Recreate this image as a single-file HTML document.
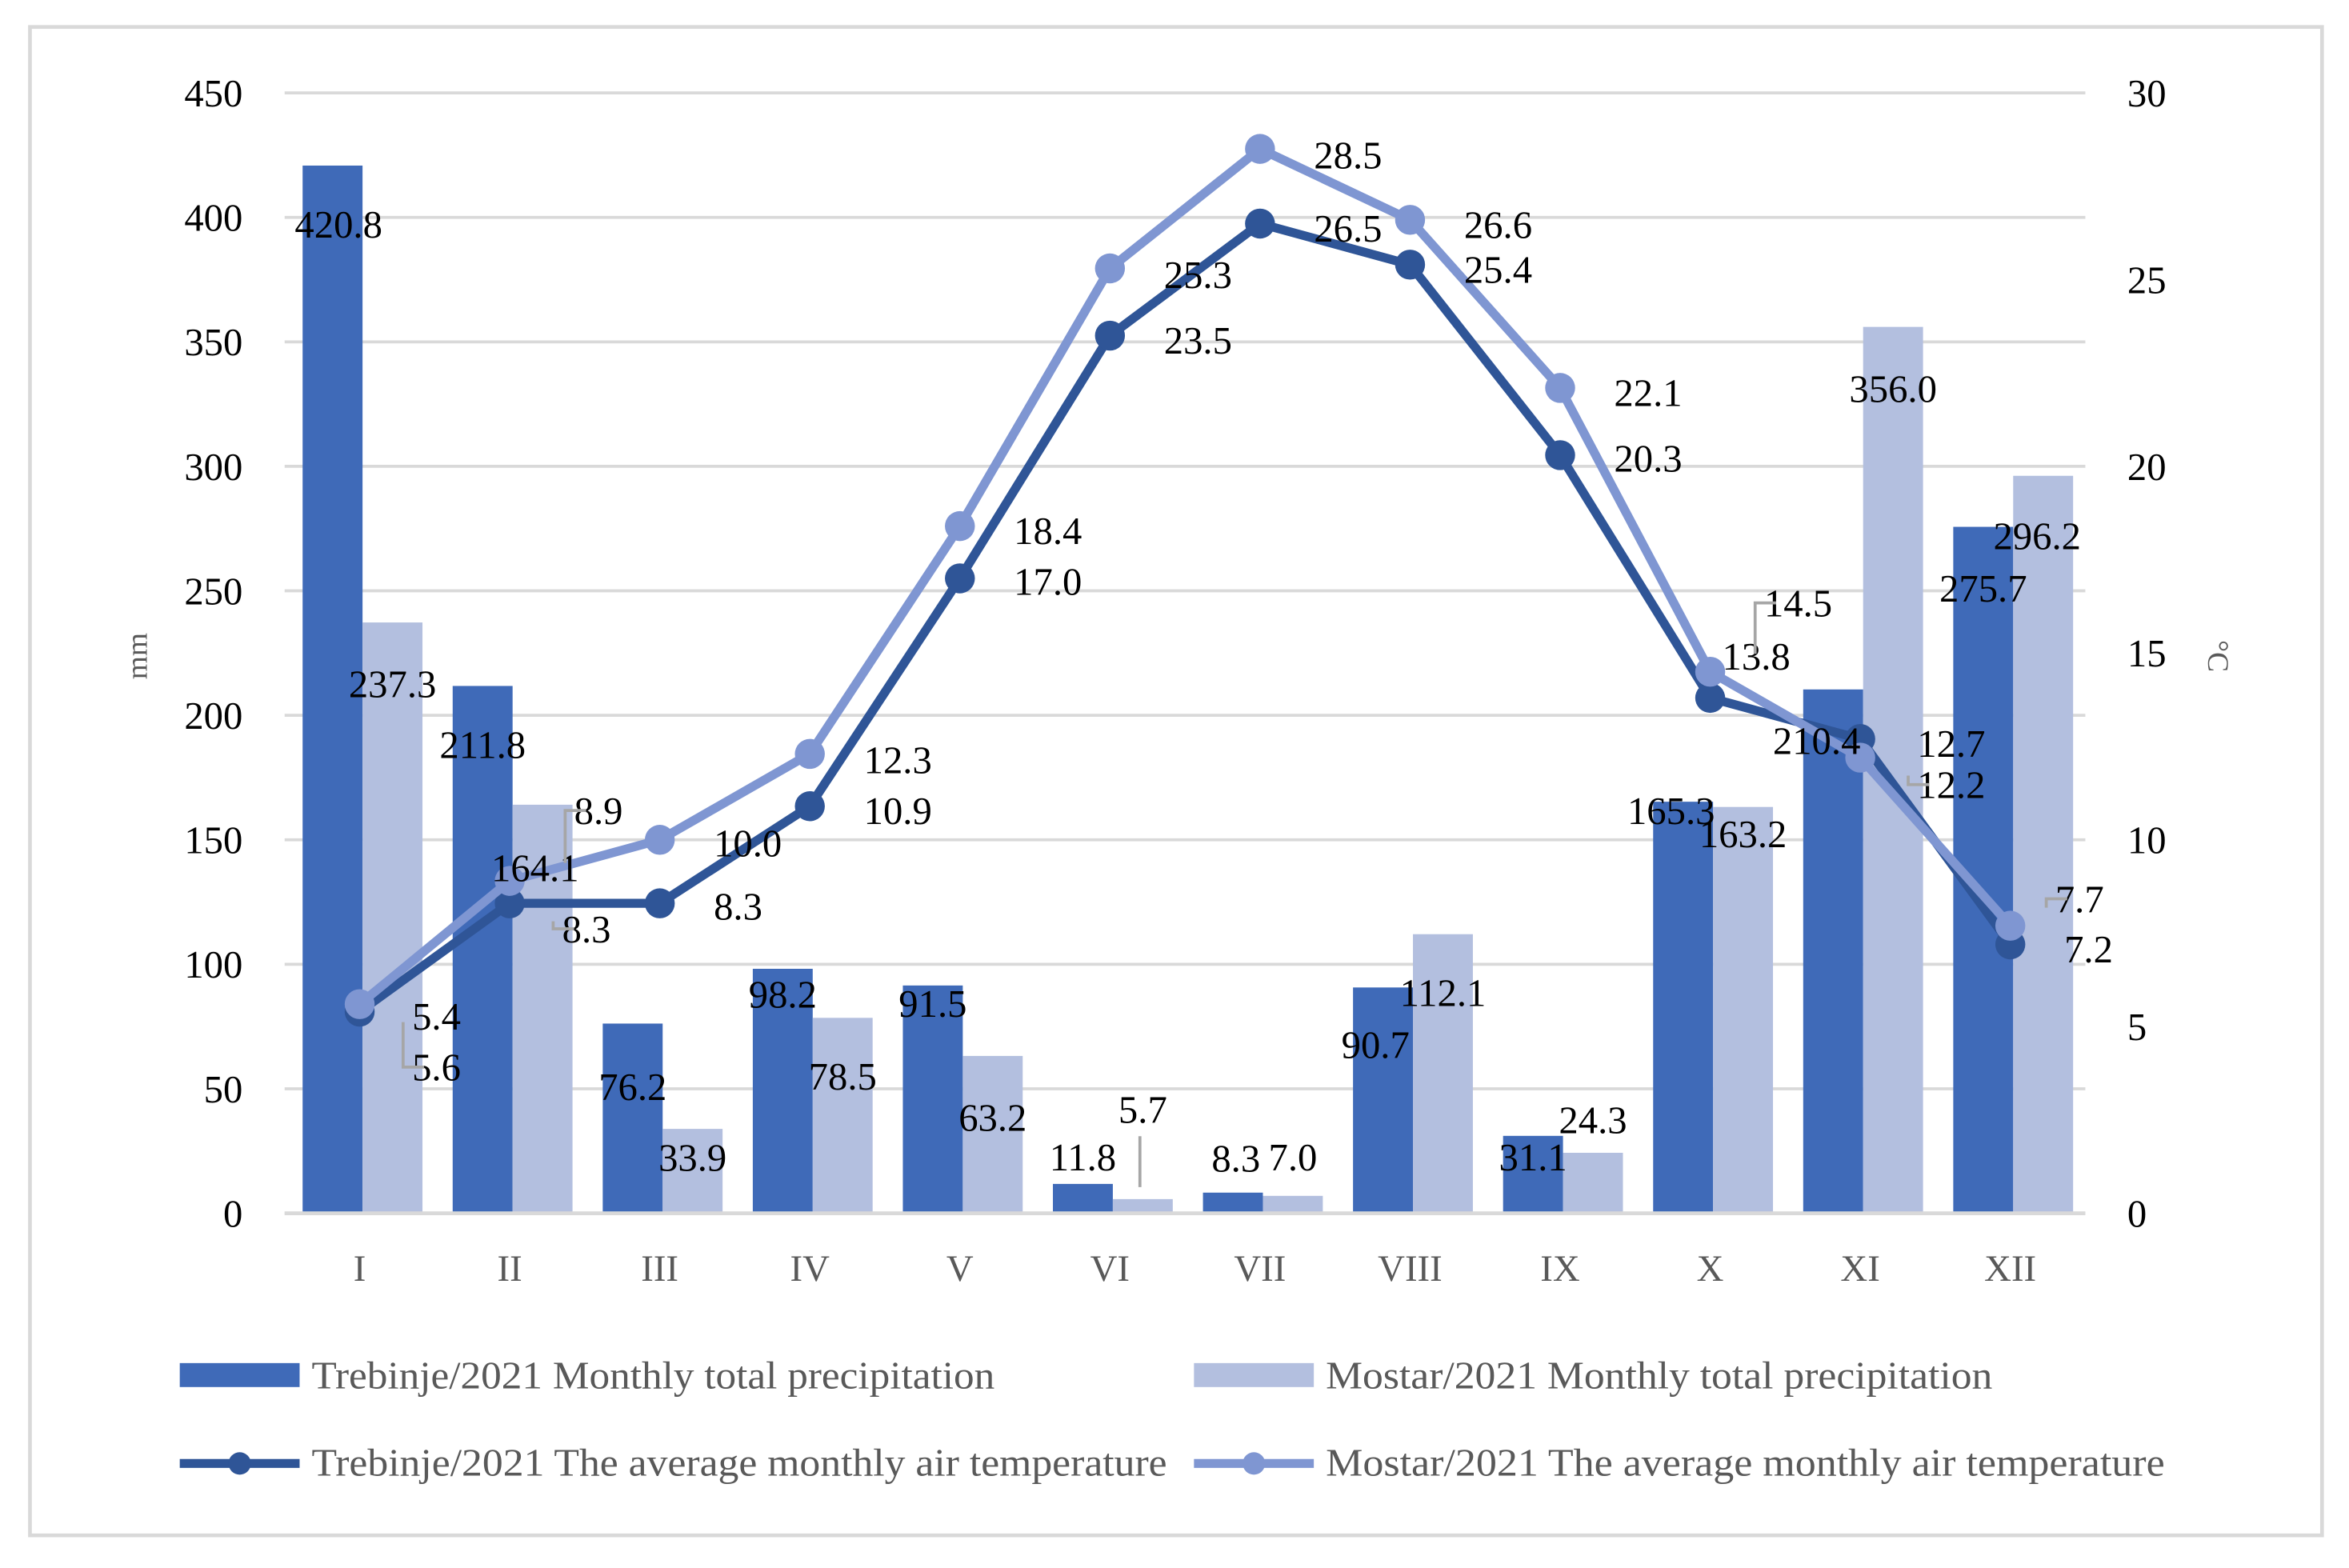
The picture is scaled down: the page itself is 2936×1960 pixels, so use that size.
<!DOCTYPE html>
<html><head><meta charset="utf-8"><style>
html,body{margin:0;padding:0;background:#fff;}
svg{display:block;}
text{font-family:"Liberation Serif",serif;}
</style></head><body>
<svg id="chart" width="2936" height="1960" viewBox="0 0 1568 1046.8" preserveAspectRatio="none" xmlns="http://www.w3.org/2000/svg">
<rect x="20" y="18" width="1530" height="1007" fill="#fff" stroke="#d9d9d9" stroke-width="2.5"/>
<g id="grid"></g><g id="bars"></g><g id="lines"></g><g id="labels"></g>
<text x="0" y="0" transform="translate(98,438) rotate(-90)" font-size="20" fill="#595959" text-anchor="middle">mm</text>
<text x="0" y="0" transform="translate(1474,438) rotate(90)" font-size="20" fill="#595959" text-anchor="middle">°C</text>
<g font-size="26" fill="#595959">
<rect x="120" y="910" width="80" height="16" fill="#3f6ab8"/>
<text x="208" y="927" textLength="456" lengthAdjust="spacingAndGlyphs">Trebinje/2021 Monthly total precipitation</text>
<rect x="797" y="910" width="80" height="16" fill="#b3bfdf"/>
<text x="885" y="927" textLength="445" lengthAdjust="spacingAndGlyphs">Mostar/2021 Monthly total precipitation</text>
<line x1="120" y1="977" x2="200" y2="977" stroke="#2f5597" stroke-width="6"/>
<circle cx="160" cy="977" r="7.5" fill="#2f5597"/>
<text x="208" y="985" textLength="571" lengthAdjust="spacingAndGlyphs">Trebinje/2021 The average monthly air temperature</text>
<line x1="797" y1="977" x2="877" y2="977" stroke="#7f96d2" stroke-width="6"/>
<circle cx="837" cy="977" r="7.5" fill="#7f96d2"/>
<text x="885" y="985" textLength="560" lengthAdjust="spacingAndGlyphs">Mostar/2021 The average monthly air temperature</text>
</g>
</svg>
<script>
const months = ["I","II","III","IV","V","VI","VII","VIII","IX","X","XI","XII"];
const trebinjePrecip = [420.8,211.8,76.2,98.2,91.5,11.8,8.3,90.7,31.1,165.3,210.4,275.7];
const mostarPrecip = [237.3,164.1,33.9,78.5,63.2,5.7,7.0,112.1,24.3,163.2,356.0,296.2];
const trebinjeTemp = [5.4,8.3,8.3,10.9,17.0,23.5,26.5,25.4,20.3,13.8,12.7,7.2];
const mostarTemp = [5.6,8.9,10.0,12.3,18.4,25.3,28.5,26.6,22.1,14.5,12.2,7.7];
const leftTicks = [0,50,100,150,200,250,300,350,400,450];
const rightTicks = [0,5,10,15,20,25,30];

const NS="http://www.w3.org/2000/svg";
const X0=190, X1=1392, Y0=810, Y1=62;
const cw=(X1-X0)/12;
const yL=v=>Y0-(v/450)*(Y0-Y1);
const yR=v=>Y0-(v/30)*(Y0-Y1);
const xc=i=>X0+cw*(i+0.5);
function mk(tag,attrs,parent,txt){const e=document.createElementNS(NS,tag);for(const k in attrs)e.setAttribute(k,attrs[k]);if(txt!==undefined)e.textContent=txt;document.getElementById(parent).appendChild(e);return e;}

leftTicks.forEach(t=>{
  const l=mk('line',{x1:X0,x2:X1,y1:yL(t),y2:yL(t),stroke:'#d9d9d9','stroke-width':2},'grid');
  
  
  const tx=mk('text',{x:162,y:yL(t)+9,'font-size':26,'text-anchor':'end',fill:'#000'},'grid',String(t));
  
  
});
rightTicks.forEach(t=>{
  const tx=mk('text',{x:1420,y:yR(t)+9,'font-size':26,fill:'#000'},'grid',String(t));
  
  
});
months.forEach((m,i)=>{
  const tx=mk('text',{x:xc(i),y:855,'font-size':25,'text-anchor':'middle',fill:'#595959'},'grid',m);
  
  
});
const bw=40;
const tbOff=[[4,39],[0,39],[0,42],[0,17],[0,12],[0,-18],[2,-23],[-5,38],[0,14],[-8,6],[-11,34],[0,41]];
const mbOff=[[0,41],[-5,42],[0,19],[0,39],[0,41],[0,-60],[0,-26],[0,39],[0,-22],[0,18],[0,41],[-4,40]];
trebinjePrecip.forEach((v,i)=>{
  const x=X0+cw*i+12, y=yL(v);
  const r=mk('rect',{x:x,y:y,width:bw,height:Y0-y,fill:'#3f6ab8'},'bars');
  
  
  const t=mk('text',{x:x+bw/2+tbOff[i][0],y:y+tbOff[i][1]+9,'font-size':26,'text-anchor':'middle',fill:'#000'},'labels',v.toFixed(1));
  
  
});
mostarPrecip.forEach((v,i)=>{
  const x=X0+cw*i+12+bw, y=yL(v);
  const r=mk('rect',{x:x,y:y,width:bw,height:Y0-y,fill:'#b3bfdf'},'bars');
  
  
  const t=mk('text',{x:x+bw/2+mbOff[i][0],y:y+mbOff[i][1]+9,'font-size':26,'text-anchor':'middle',fill:'#000'},'labels',v.toFixed(1));
  
  
});
const base=mk('line',{x1:X0,x2:X1,y1:Y0,y2:Y0,stroke:'#d9d9d9',"stroke-width":2.5},'bars');


const ld=mk('path',{d:`M${xc(5)+20},${yL(mostarPrecip[5])-8} V${yL(mostarPrecip[5])-42}`,stroke:'#a6a6a6','stroke-width':2,fill:'none'},'labels');


function series(vals,color,name,offs,leaders){
  const pts=vals.map((v,i)=>[xc(i),yR(v)]);
  const p=mk('polyline',{points:pts.map(p=>p.join(',')).join(' '),fill:'none',stroke:color,'stroke-width':6,'stroke-linejoin':'round'},'lines');
  
  
  pts.forEach((q,i)=>{
    const c=mk('circle',{cx:q[0],cy:q[1],r:10,fill:color},'lines');
    
    
    const t=mk('text',{x:q[0]+offs[i][0],y:q[1]+offs[i][1]+9,'font-size':26,fill:'#000'},'labels',vals[i].toFixed(1));
    
    
    if(leaders[i]){
      const lx=q[0]+offs[i][0]-6, ly=q[1]+offs[i][1];
      const l=mk('path',{d:`M${lx+14},${ly} H${lx} V${q[1]+(offs[i][1]>0?12:-12)}`,stroke:'#a6a6a6','stroke-width':2,fill:'none'},'labels');
      
      
    }
  });
}
const ttOff=[[35,3],[35,17],[36,2],[36,3],[36,2],[36,3],[36,3],[36,3],[36,2],[8,-28],[38,3],[36,3]];
const mtOff=[[35,42],[43,-47],[36,2],[36,4],[36,3],[36,4],[36,4],[36,3],[36,3],[36,-46],[38,18],[30,-18]];
series(trebinjeTemp,'#2f5597','trebinje-temp',ttOff,[0,1,0,0,0,0,0,0,0,0,0,0]);
series(mostarTemp,'#7f96d2','mostar-temp',mtOff,[1,1,0,0,0,0,0,0,0,1,1,1]);
</script>
</body></html>
